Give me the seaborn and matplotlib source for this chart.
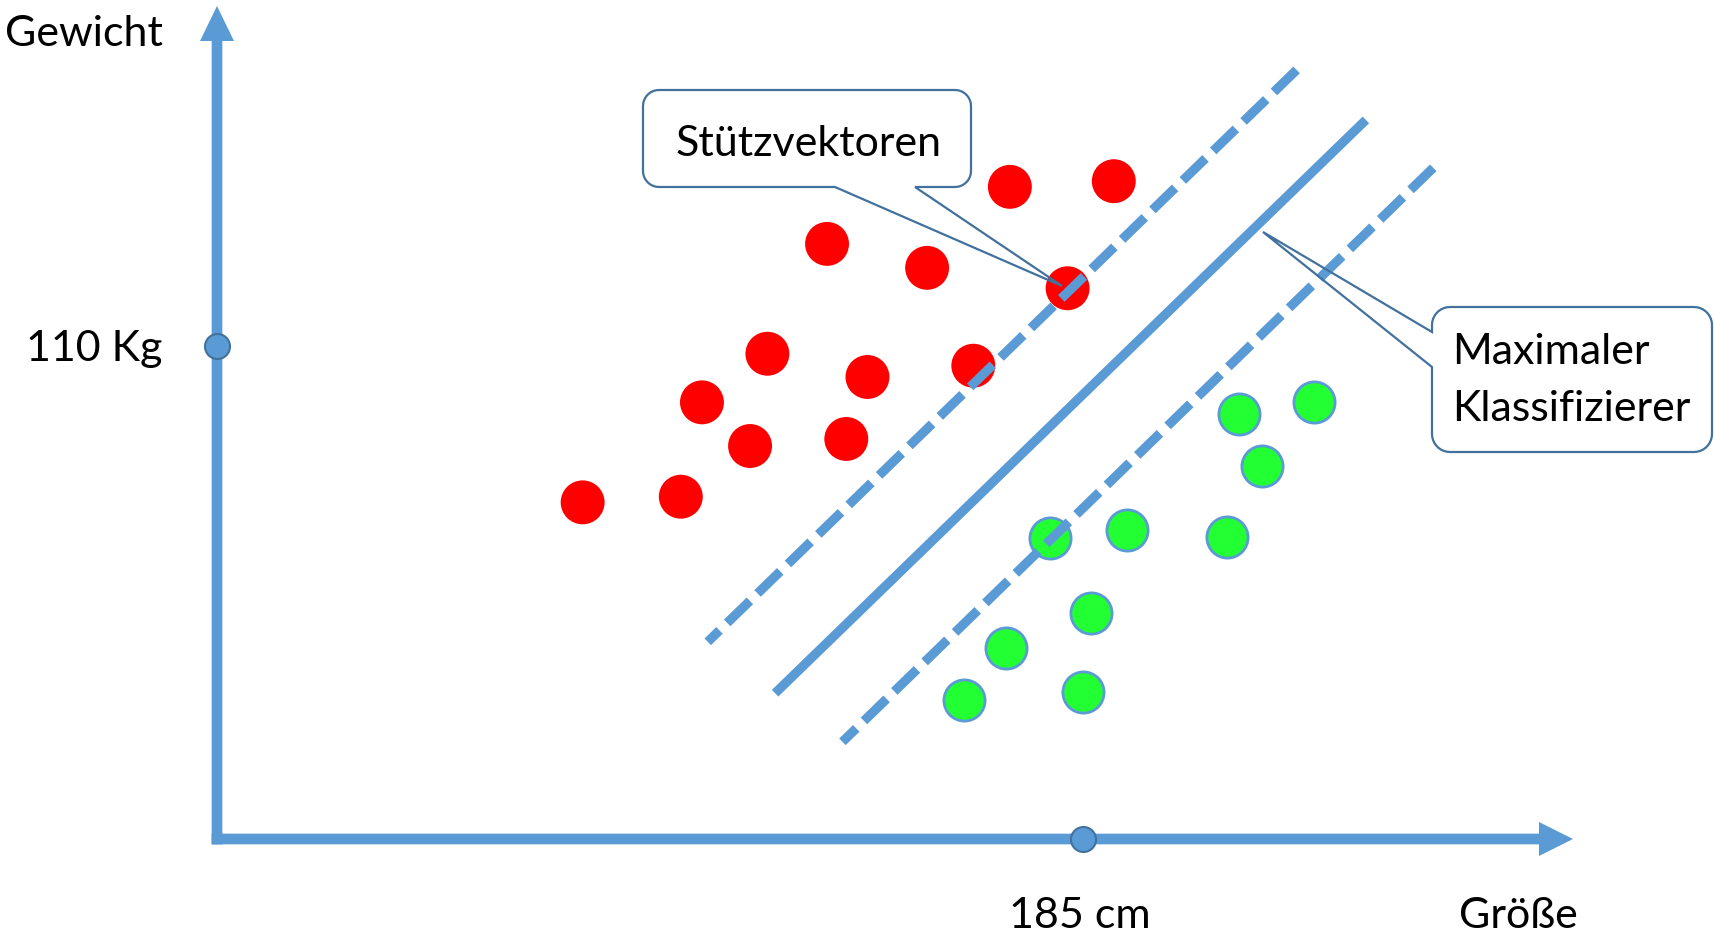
import numpy as np
import pandas as pd
import matplotlib
matplotlib.use("Agg")
import matplotlib.pyplot as plt
from matplotlib.path import Path
from matplotlib.patches import PathPatch
import seaborn as sns

# ---------------------------------
# data (Größe in cm, Gewicht in kg)
# ---------------------------------
red_cm = [159.0, 164.1, 165.2, 167.7, 168.6, 171.7, 172.7, 173.8, 176.9, 179.3, 181.2, 184.2, 186.6]
red_kg = [87.8, 88.6, 102.0, 95.8, 108.9, 124.5, 96.8, 105.6, 121.1, 107.2, 132.6, 118.2, 133.4]

green_cm = [178.8, 181.0, 185.0, 185.4, 183.3, 187.3, 192.5, 193.1, 194.3, 197.0]
green_kg = [59.7, 67.1, 60.9, 72.1, 82.7, 83.9, 82.9, 100.3, 93.0, 102.0]

# margin lines and the classifier (upper end first)
upper_cm = [196.1, 165.5]
upper_kg = [149.2, 68.0]
middle_cm = [199.7, 169.0]
middle_kg = [142.1, 60.7]
lower_cm = [203.2, 172.5]
lower_kg = [135.3, 53.8]

tick_cm = 185
tick_kg = 110
origin_cm = 140
origin_kg = 40

# ---------------------------------
# figure
# ---------------------------------
W, H, DPI = 1714, 937, 100
BLUE = "#5B9BD5"
DARK = "#41719C"

sns.set_theme(style="white")
plt.rcParams["font.family"] = ["Lato", "DejaVu Sans"]

fig = plt.figure(figsize=(W / DPI, H / DPI), dpi=DPI)
ax = fig.add_axes([0, 0, 1, 1])

px_cm = (1083 - 217) / (tick_cm - origin_cm)
px_kg = (840 - 347) / (tick_kg - origin_kg)
ax.set_xlim(origin_cm - 217 / px_cm, origin_cm + (W - 217) / px_cm)
ax.set_ylim(origin_kg - (H - 840) / px_kg, origin_kg + 840 / px_kg)
ax.axis("off")


def P(x, y):
    # pixel position (y down) -> inches for fig.dpi_scale_trans
    return x / DPI, (H - y) / DPI


# axes with arrow heads
top_kg = origin_kg + (840 - 7) / px_kg
right_cm = origin_cm + (1573 - 217) / px_cm
ax.arrow(origin_cm, origin_kg - 5.4 / px_kg, 0, top_kg - origin_kg + 5.4 / px_kg,
         width=10.7 / px_cm, head_width=34 / px_cm, head_length=35 / px_kg,
         length_includes_head=True, color=BLUE, lw=0, zorder=1)
ax.arrow(origin_cm - 5.4 / px_cm, origin_kg, right_cm - origin_cm + 5.4 / px_cm, 0,
         width=10.7 / px_kg, head_width=34 / px_kg, head_length=34 / px_cm,
         length_includes_head=True, color=BLUE, lw=0, zorder=1)

ax.plot([tick_cm, origin_cm], [origin_kg, tick_kg], "o", ms=18,
        mfc=BLUE, mec=DARK, mew=1.5, zorder=5)

# points
red = pd.DataFrame({"cm": red_cm, "kg": red_kg})
green = pd.DataFrame({"cm": green_cm, "kg": green_kg})
sns.scatterplot(data=red, x="cm", y="kg", s=1000, color="#FF0000",
                edgecolor="none", linewidth=0, ax=ax, zorder=2)
sns.scatterplot(data=green, x="cm", y="kg", s=880, color="#22FF33",
                edgecolor=BLUE, linewidth=2.0, ax=ax, zorder=2)

# classifier + margins
dash = (0, (3.4, 1.15))
sns.lineplot(x=upper_cm, y=upper_kg, sort=False, color=BLUE, lw=6.7,
             linestyle=dash, dash_capstyle="butt", ax=ax, zorder=3)
sns.lineplot(x=middle_cm, y=middle_kg, sort=False, color=BLUE, lw=6.7,
             solid_capstyle="butt", ax=ax, zorder=3)
sns.lineplot(x=lower_cm, y=lower_kg, sort=False, color=BLUE, lw=6.7,
             linestyle=dash, dash_capstyle="butt", ax=ax, zorder=3)


# callouts
def callout(x0, y0, x1, y1, r, side, b1, b2, tip):
    def arc(cx, cy, a0, a1):
        a = np.radians(np.linspace(a0, a1, 10))
        return list(zip(cx + r * np.cos(a), cy + r * np.sin(a)))

    pts = arc(x0 + r, y0 + r, 180, 270)
    pts += arc(x1 - r, y0 + r, 270, 360)
    pts += arc(x1 - r, y1 - r, 0, 90)
    if side == "bottom":
        pts += [(b2, y1), tip, (b1, y1)]
    pts += arc(x0 + r, y1 - r, 90, 180)
    if side == "left":
        pts += [(x0, b2), tip, (x0, b1)]
    pts.append(pts[0])
    verts = [P(*p) for p in pts]
    path = Path(verts)
    fig.patches.append(PathPatch(path, facecolor="none", edgecolor=DARK, lw=1.6,
                                 transform=fig.dpi_scale_trans, zorder=6))


callout(643, 91, 971, 188, 16, "bottom", 835, 915, (1062, 287))
callout(1432, 308, 1712, 453, 18, "left", 333, 368, (1263, 233))

# texts
labels = [
    ("Gewicht", 5, 46),
    ("110 Kg", 26, 361),
    ("185 cm", 1009, 928),
    ("Größe", 1459, 928),
    ("Stützvektoren", 676, 156),
    ("Maximaler", 1452, 364),
    ("Klassifizierer", 1452, 421),
]
for s, x, y in labels:
    fig.text(*P(x, y), s, transform=fig.dpi_scale_trans, fontsize=31,
             color="black", ha="left", va="baseline")

fig.savefig("out.png", dpi=DPI, facecolor="white")
